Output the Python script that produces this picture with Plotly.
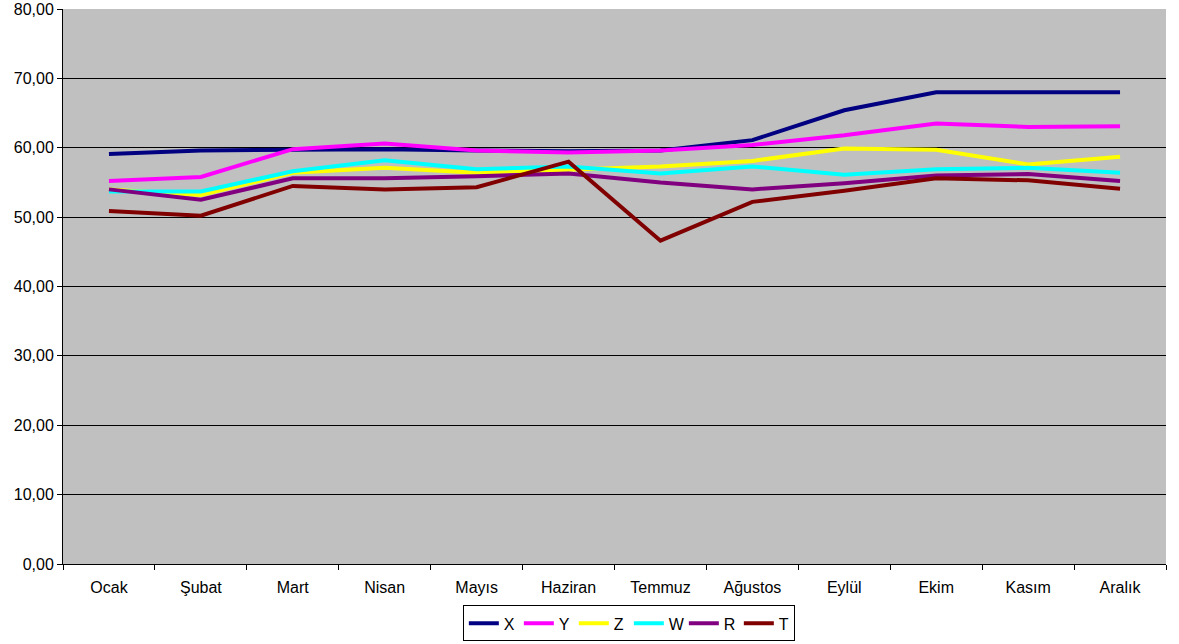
import plotly.graph_objects as go

months = ["Ocak", "Şubat", "Mart", "Nisan", "Mayıs", "Haziran", "Temmuz",
          "Ağustos", "Eylül", "Ekim", "Kasım", "Aralık"]

X = [59.1, 59.6, 59.7, 59.8, 59.6, 59.5, 59.6, 61.1, 65.4, 68.0, 68.0, 68.0]
Y = [55.2, 55.8, 59.8, 60.6, 59.6, 59.3, 59.6, 60.4, 61.8, 63.5, 63.0, 63.1]
Z = [54.0, 53.2, 56.4, 57.1, 56.4, 56.8, 57.3, 58.1, 59.9, 59.7, 57.6, 58.7]
W = [53.7, 53.7, 56.6, 58.2, 56.9, 57.3, 56.3, 57.3, 56.1, 56.9, 57.1, 56.4]
R = [54.0, 52.5, 55.6, 55.6, 55.9, 56.3, 55.0, 54.0, 54.9, 56.0, 56.2, 55.2]
T = [50.9, 50.2, 54.5, 54.0, 54.3, 58.0, 46.6, 52.2, 53.8, 55.6, 55.3, 54.1]

series = [("X", X, "#000080"), ("Y", Y, "#FF00FF"), ("Z", Z, "#FFFF00"),
          ("W", W, "#00FFFF"), ("R", R, "#800080"), ("T", T, "#800000")]

fig = go.Figure()
for name, vals, color in series:
    fig.add_trace(go.Scatter(x=months, y=vals, name=name, mode="lines",
                             line=dict(color=color, width=4)))

fig.update_layout(
    width=1179, height=644,
    margin=dict(l=63, r=13, t=9, b=80, autoexpand=False),
    paper_bgcolor="white",
    plot_bgcolor="#C0C0C0",
    font=dict(family="Liberation Sans, Arial, sans-serif", size=16, color="black"),
    separators=",.",
    showlegend=True,
    legend=dict(orientation="h", x=0.513, xanchor="center", yref="container",
                y=0.004, yanchor="bottom", bordercolor="black", borderwidth=1,
                bgcolor="white", font=dict(size=16), itemwidth=30,
                tracegroupgap=0, entrywidth=10, entrywidthmode="pixels"),
)
fig.update_xaxes(showline=True, linecolor="black", linewidth=1, showgrid=False,
                 ticks="outside", tickson="boundaries", ticklen=5, tickcolor="black",
                 range=[-0.5, 11.5], mirror=False, automargin=False,
                 ticklabelstandoff=9)
fig.update_yaxes(range=[0, 80], dtick=10, tickformat=".2f", showline=True,
                 linecolor="black", linewidth=1, showgrid=True, gridcolor="black",
                 gridwidth=1, ticks="outside", ticklen=5, tickcolor="black",
                 zeroline=False, automargin=False)

fig.write_html("out.html", config={"displayModeBar": False},
               post_script="document.body.style.margin='0';document.body.style.overflow='hidden';")
